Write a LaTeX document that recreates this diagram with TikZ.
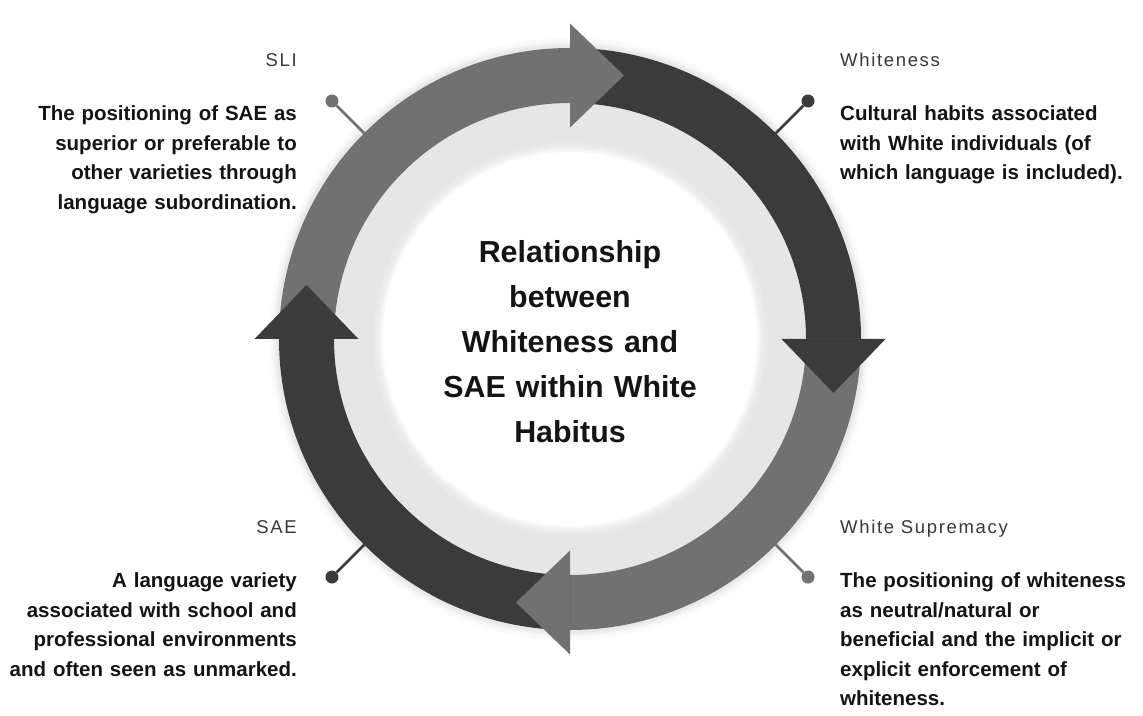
\documentclass[tikz,border=0pt]{standalone}
\usepackage{fontspec}
\setmainfont{Liberation Sans}
\newfontfamily\labelfont{Liberation Sans}[LetterSpace=9]
\definecolor{ringmid}{HTML}{717171}
\definecolor{ringdark}{HTML}{3B3B3B}
\definecolor{bandlight}{HTML}{E6E6E6}
\definecolor{bodyink}{HTML}{141414}
\definecolor{labelink}{HTML}{383838}

\begin{document}
\begin{tikzpicture}[x=1pt,y=1pt,
  body/.style={font=\fontsize{20.5}{29.5}\selectfont\bfseries, text=bodyink, inner sep=0pt, text width=300pt},
  tag/.style={font=\labelfont\fontsize{18.5}{22}\selectfont, text=labelink, inner sep=0pt},
  pin/.style={circle, inner sep=0pt, minimum size=13pt},
  lead/.style={line width=2.6pt},
  title/.style={font=\fontsize{30.4}{45}\selectfont\bfseries, text=bodyink, align=center, inner sep=0pt, text width=330pt}
]
\useasboundingbox (0,0) rectangle (1143,715);
\fill[white] (0,0) rectangle (1143,715);

\begin{scope}[shift={(570,376)}]
  % soft halo around the cycle ring
  \foreach \r/\o in {301/0.015, 298/0.02, 296/0.025, 294/0.03}{
    \fill[black, opacity=\o] (0,0) circle[radius=\r];
  }
  % light band and white core with a soft edge
  \fill[bandlight] (0,0) circle[radius=236];
  \foreach \r/\g in {197/88, 194/70, 191/50, 189/30}{
    \fill[bandlight!\g!white] (0,0) circle[radius=\r];
  }
  \fill[white] (0,0) circle[radius=187];

  % four quarter segments of the ring (clockwise)
  \fill[ringmid] (180:291) arc[start angle=180, end angle=90, radius=291]
      -- (90:236) arc[start angle=90, end angle=180, radius=236] -- cycle;
  \fill[ringdark] (90:291) arc[start angle=90, end angle=0, radius=291]
      -- (0:236) arc[start angle=0, end angle=90, radius=236] -- cycle;
  \fill[ringmid] (0:291) arc[start angle=0, end angle=-90, radius=291]
      -- (-90:236) arc[start angle=-90, end angle=0, radius=236] -- cycle;
  \fill[ringdark] (-90:291) arc[start angle=-90, end angle=-180, radius=291]
      -- (-180:236) arc[start angle=-180, end angle=-90, radius=236] -- cycle;

  % arrowheads at the end of each segment
  \fill[ringmid]  (90:211.5)  -- (90:315.5)  -- (54,263.5)   -- cycle;
  \fill[ringdark] (0:211.5)   -- (0:315.5)   -- (263.5,-54)  -- cycle;
  \fill[ringmid]  (-90:211.5) -- (-90:315.5) -- (-54,-263.5) -- cycle;
  \fill[ringdark] (180:211.5) -- (180:315.5) -- (-263.5,54)  -- cycle;

  % leader pins
  \coordinate (sliEdge) at (135:291);
  \coordinate (whtEdge) at (45:291);
  \coordinate (supEdge) at (-45:291);
  \coordinate (saeEdge) at (-135:291);
  \node[pin, fill=ringmid]  (sliDot) at (135:336.6) {};
  \node[pin, fill=ringdark] (whtDot) at (45:336.6) {};
  \node[pin, fill=ringmid]  (supDot) at (-45:336.6) {};
  \node[pin, fill=ringdark] (saeDot) at (-135:336.6) {};
  \draw[lead, ringmid]  (sliEdge) -- (sliDot);
  \draw[lead, ringdark] (whtEdge) -- (whtDot);
  \draw[lead, ringmid]  (supEdge) -- (supDot);
  \draw[lead, ringdark] (saeEdge) -- (saeDot);
\end{scope}

% central title
\node[title, anchor=base] (core) at (570,452)
  {Relationship\\ between\\ Whiteness and\\ SAE within White\\ Habitus};

% top-left: SLI
\node[tag, anchor=base east] (sliTag) at (297,648) {SLI};
\node[body, align=right, anchor=base east] (sliText) at (297,594)
  {The positioning of SAE as\\ superior or preferable to\\ other varieties through\\ language subordination.};

% top-right: Whiteness
\node[tag, anchor=base west] (whtTag) at (840,648) {Whiteness};
\node[body, align=left, anchor=base west] (whtText) at (840,594)
  {Cultural habits associated\\ with White individuals (of\\ which language is included).};

% bottom-left: SAE
\node[tag, anchor=base east] (saeTag) at (297,181) {SAE};
\node[body, align=right, anchor=base east] (saeText) at (297,127)
  {A language variety\\ associated with school and\\ professional environments\\ and often seen as unmarked.};

% bottom-right: White Supremacy
\node[tag, anchor=base west] (supTag) at (840,181) {White Supremacy};
\node[body, align=left, anchor=base west] (supText) at (840,127)
  {The positioning of whiteness\\ as neutral/natural or\\ beneficial and the implicit or\\ explicit enforcement of\\ whiteness.};
\end{tikzpicture}
\end{document}
